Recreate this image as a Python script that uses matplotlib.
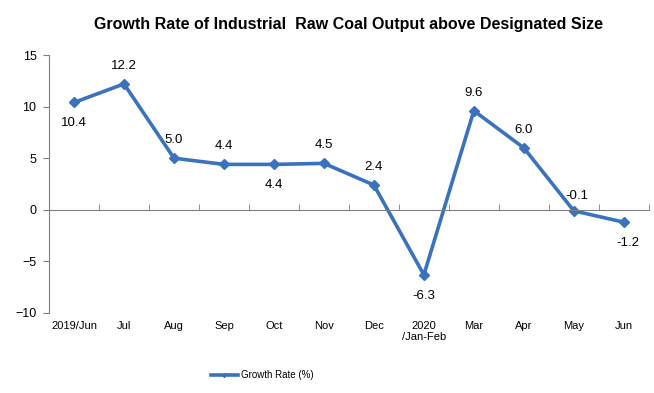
import matplotlib.pyplot as plt
import numpy as np

months = ['2019/Jun', 'Jul', 'Aug', 'Sep', 'Oct', 'Nov', 'Dec', '2020\n/Jan-Feb',
          'Mar', 'Apr', 'May', 'Jun']
growth = [10.4, 12.2, 5.0, 4.4, 4.4, 4.5, 2.4, -6.3, 9.6, 6.0, -0.1, -1.2]
# where each value label sits relative to its point
label_pos = ['below', 'above', 'above', 'above', 'below', 'above', 'above', 'below',
             'above', 'above', 'above', 'below']

plt.rcParams['font.family'] = ['Liberation Sans', 'DejaVu Sans']
narrow = ['Liberation Sans Narrow', 'Liberation Sans', 'DejaVu Sans']
blue = '#3a72be'

fig = plt.figure(figsize=(6.54, 3.93), dpi=100)
ax = fig.add_axes([0.075, 0.2036, 0.917, 0.6564])

x = np.arange(len(months))
ax.plot(x, growth, color=blue, lw=2.6, marker='D', ms=5, label='Growth Rate (%)')

for xi, v, pos in zip(x, growth, label_pos):
    dy = 13 if pos == 'above' else -15
    dx = 0
    if v == -0.1:
        dx, dy = 2, 11
    if v == -1.2:
        dx = 3
    ax.annotate(f'{v:.1f}', (xi, v), xytext=(dx, dy), textcoords='offset points',
                ha='center', va='center', fontsize=9.5)

ax.set_xlim(-0.5, len(months) - 0.5)
ax.set_ylim(-10, 15)
ax.set_yticks([-10, -5, 0, 5, 10, 15])
ax.tick_params(axis='y', length=4, width=0.8, labelsize=9, pad=5)

for s in ['top', 'right']:
    ax.spines[s].set_visible(False)
ax.spines['left'].set_color('#808080')
ax.spines['bottom'].set_position(('data', 0))
ax.spines['bottom'].set_color('#808080')

# tick marks between categories on the zero line
ax.set_xticks(np.arange(len(months) + 1) - 0.5, minor=True)
ax.set_xticks([])
ax.tick_params(axis='x', which='minor', direction='in', length=4, color='#808080')
ax.tick_params(axis='y', color='#808080')

# month labels under the plot
sec = ax.secondary_xaxis(location=0)
sec.set_xticks(x)
sec.set_xticklabels(months, fontfamily=narrow, fontsize=8, linespacing=1.1)
sec.tick_params(length=0, pad=6)
sec.spines['bottom'].set_visible(False)

ax.set_title('Growth Rate of Industrial  Raw Coal Output above Designated Size',
             fontsize=11.5, fontweight='bold', pad=19)

fig.legend(loc='center', bbox_to_anchor=(262 / 654, 1 - 375 / 393), frameon=False,
           prop={'family': narrow, 'size': 7}, handlelength=2.8, handletextpad=0.3,
           markerscale=0.4)

fig.savefig('out.png', dpi=100)
